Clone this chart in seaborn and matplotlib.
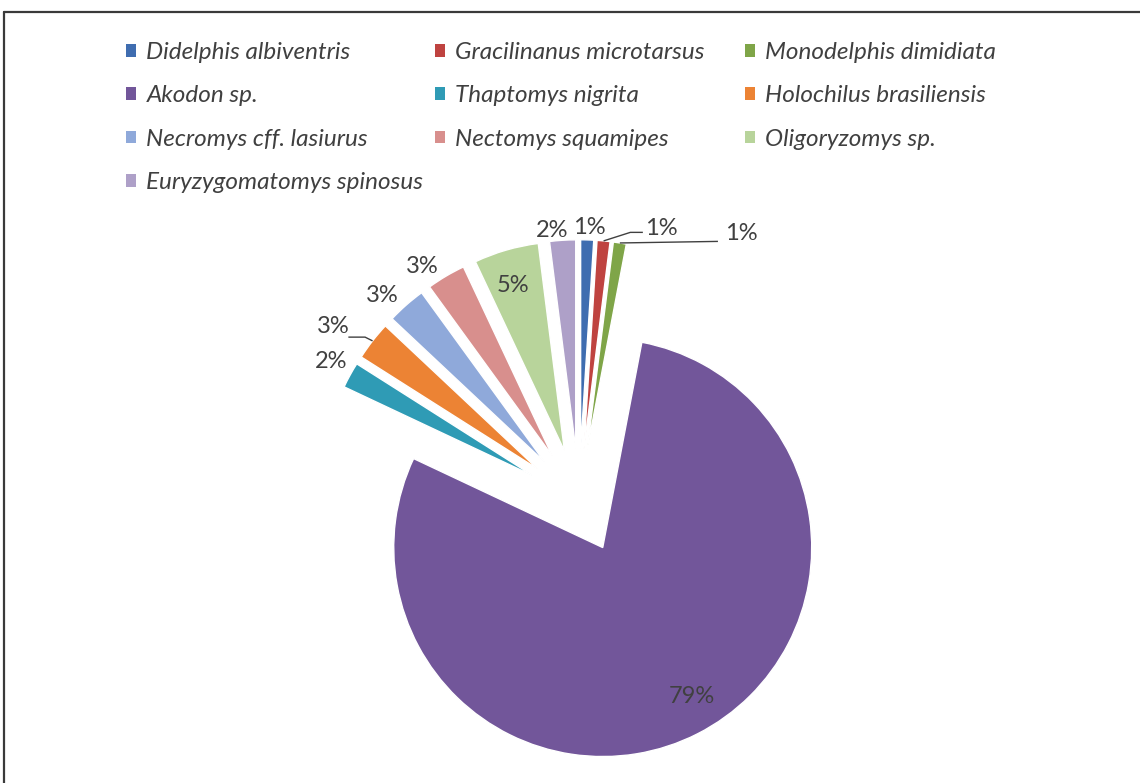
import numpy as np
import matplotlib
matplotlib.use("Agg")
import matplotlib.pyplot as plt
from matplotlib.patches import Patch
from matplotlib.lines import Line2D
import seaborn as sns

# Small-mammal captures by species (share of total records, %)
species = [
    "Didelphis albiventris", "Gracilinanus microtarsus", "Monodelphis dimidiata",
    "Akodon sp.", "Thaptomys nigrita", "Holochilus brasiliensis",
    "Necromys cff. lasiurus", "Nectomys squamipes", "Oligoryzomys sp.",
    "Euryzygomatomys spinosus",
]
percent = [1, 1, 1, 79, 2, 3, 3, 3, 5, 2]
colors = [
    "#3F6DB0", "#BF4340", "#7FA548", "#72569A", "#2F9BB5",
    "#EC8334", "#8FA9DA", "#D88F8D", "#B8D49B", "#AEA0C8",
]

# label placement per slice: distance from the slice apex (in radii) and
# clockwise angular shift from the slice bisector (degrees)
label_dist = [1.06, 1.12, 1.27, 0.83, 1.11, 1.19, 1.11, 1.10, 0.83, 1.05]
label_shift = [0.4, 14.0, 26.4, -3.8, 0.6, -2.9, -2.8, -4.0, -1.0, -2.6]
# leader-line bend points, relative to the label centre (in radii)
leaders = {
    1: [(-0.15, -0.02), (-0.09, -0.02)],
    2: [(-0.11, -0.04)],
    5: [(0.15, -0.05), (0.07, -0.05)],
}

W, H, DPI = 1140, 783, 100
CX, CY, RPX = 579, 501, 209  # pie centre and radius in pixels
TEXT = "#404040"
FS = 17

sns.set_theme(style="white")
plt.rcParams["font.family"] = ["Lato", "DejaVu Sans"]
palette = sns.color_palette(colors)

fig = plt.figure(figsize=(W / DPI, H / DPI), dpi=DPI, facecolor="white")
ax = fig.add_axes([0, 0, 1, 1])
ax.set_facecolor("white")

wedges, _ = ax.pie(
    percent,
    colors=palette,
    startangle=90,
    counterclock=False,
    radius=1.0,
    explode=[0.25] * len(percent),
    wedgeprops=dict(edgecolor="white", linewidth=1.0),
)

for i, w in enumerate(wedges):
    mid = 0.5 * (w.theta1 + w.theta2) - label_shift[i]
    cx, cy = w.center
    ang = np.deg2rad(mid)
    lx = cx + label_dist[i] * np.cos(ang)
    ly = cy + label_dist[i] * np.sin(ang)
    ax.text(lx, ly, f"{percent[i]}%", ha="center", va="center",
            fontsize=FS, color=TEXT)
    if i in leaders:
        bis = np.deg2rad(0.5 * (w.theta1 + w.theta2))
        xs = [cx + np.cos(bis)] + [lx + dx for dx, _ in leaders[i]]
        ys = [cy + np.sin(bis)] + [ly + dy for _, dy in leaders[i]]
        ax.plot(xs, ys, color=TEXT, lw=1.0, solid_capstyle="butt")

ax.set_xlim(-CX / RPX, (W - CX) / RPX)
ax.set_ylim(-(H - CY) / RPX, CY / RPX)
ax.set_aspect("equal", adjustable="box")
ax.axis("off")

# legend laid out as a 3-column grid, filled row by row
col_x = [126, 435, 745]
for c in range(3):
    idx = list(range(c, len(species), 3))
    handles = [Patch(facecolor=palette[k], edgecolor="none") for k in idx]
    leg = fig.legend(
        handles, [species[k] for k in idx],
        loc="upper left", bbox_to_anchor=(col_x[c] / W, 1 - 42 / H),
        frameon=False, borderpad=0, borderaxespad=0,
        handlelength=0.42, handleheight=0.42, handletextpad=0.42,
        labelspacing=0.92,
        prop=dict(family="Lato", style="italic", size=FS + 0.5),
    )
    for t in leg.get_texts():
        t.set_color(TEXT)

# chart frame (top and left edges)
fig.add_artist(Line2D([4 / W, 1], [1 - 12 / H, 1 - 12 / H], color="#3a3a3a", lw=1.6,
                      transform=fig.transFigure))
fig.add_artist(Line2D([4 / W, 4 / W], [0, 1 - 12 / H], color="#3a3a3a", lw=1.6,
                      transform=fig.transFigure))

fig.savefig("out.png", dpi=DPI, facecolor="white")
